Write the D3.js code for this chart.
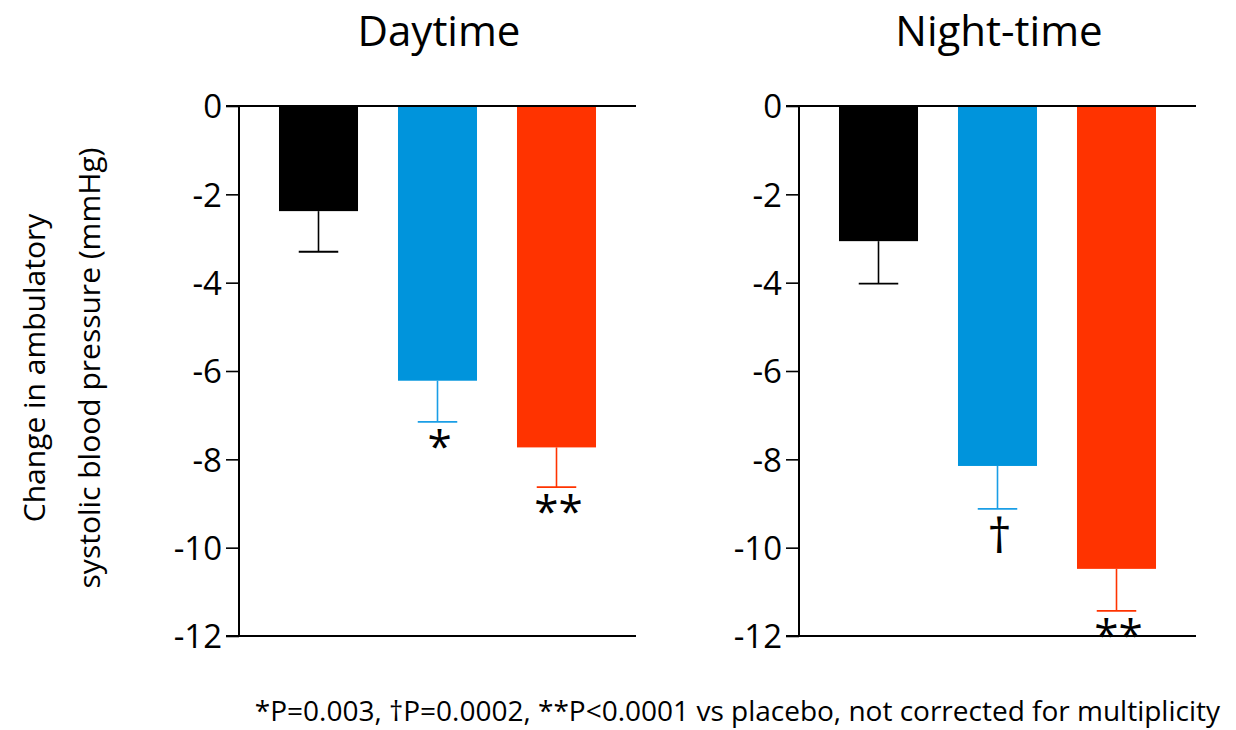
<!DOCTYPE html>
<html>
<head>
<meta charset="utf-8">
<script src="https://cdn.jsdelivr.net/npm/d3@7"></script>
<style>
  body { margin: 0; background: #fff; }
  text { font-family: "Open Sans", sans-serif; fill: #000; }
</style>
</head>
<body>
<script>
// data
var panels = ["Daytime", "Night-time"];
var groups = ["Placebo", "Dose 1", "Dose 2"];
var colors = ["#000000", "#0094dc", "#ff3300"];
var dayMeans = [-2.38, -6.22, -7.73];
var dayErrors = [-3.30, -7.15, -8.63];
var nightMeans = [-3.06, -8.15, -10.48];
var nightErrors = [-4.02, -9.12, -11.43];
var daySig = ["", "*", "**"];
var nightSig = ["", "†", "**"];
var yTicks = [0, -2, -4, -6, -8, -10, -12];

var svg = d3.select("body").append("svg")
    .attr("width", 1236)
    .attr("height", 730);

var y = d3.scaleLinear().domain([0, -12]).range([106, 636]);

var panelData = [
  { title: panels[0], axisX: 239, means: dayMeans, errs: dayErrors, sig: daySig },
  { title: panels[1], axisX: 799, means: nightMeans, errs: nightErrors, sig: nightSig }
];

panelData.forEach(function(p) {
  var x = d3.scaleBand()
    .domain(groups)
    .range([p.axisX + 20, p.axisX + 377])
    .paddingInner(0.336)
    .paddingOuter(0.168);

  var g = svg.append("g");

  // bars
  g.selectAll("rect")
    .data(groups)
    .enter()
    .append("rect")
    .attr("x", function(d) { return x(d); })
    .attr("width", x.bandwidth())
    .attr("y", y(0))
    .attr("height", function(d, i) { return y(p.means[i]) - y(0); })
    .attr("fill", function(d, i) { return colors[i]; });

  // error bars
  var eb = g.selectAll(".err")
    .data(groups)
    .enter()
    .append("g")
    .attr("class", "err");
  eb.append("line")
    .attr("x1", function(d) { return x(d) + x.bandwidth() / 2; })
    .attr("x2", function(d) { return x(d) + x.bandwidth() / 2; })
    .attr("y1", function(d, i) { return y(p.means[i]); })
    .attr("y2", function(d, i) { return y(p.errs[i]); })
    .attr("stroke", function(d, i) { return colors[i] == "#0094dc" ? "#1a9ee6" : colors[i]; })
    .attr("stroke-width", 1.6);
  eb.append("line")
    .attr("x1", function(d) { return x(d) + x.bandwidth() / 4; })
    .attr("x2", function(d) { return x(d) + x.bandwidth() * 3 / 4; })
    .attr("y1", function(d, i) { return y(p.errs[i]); })
    .attr("y2", function(d, i) { return y(p.errs[i]); })
    .attr("stroke", function(d, i) { return colors[i] == "#0094dc" ? "#1a9ee6" : colors[i]; })
    .attr("stroke-width", 1.8);

  // significance marks
  g.selectAll(".sig")
    .data(groups)
    .enter()
    .append("text")
    .attr("class", "sig")
    .attr("x", function(d) { return x(d) + x.bandwidth() / 2 + 2; })
    .attr("y", function(d, i) { return y(p.errs[i]) + (p.sig[i] == "†" ? 44 : 40); })
    .attr("text-anchor", "middle")
    .style("font-size", function(d, i) { return p.sig[i] == "†" ? "48px" : "44px"; })
    .text(function(d, i) { return p.sig[i]; });

  // y axis
  var axis = d3.axisLeft(y)
    .tickValues(yTicks)
    .tickSize(13)
    .tickPadding(4)
    .tickFormat(function(d) { return String(d); });
  var ag = g.append("g")
    .attr("transform", "translate(" + p.axisX + ",0)")
    .call(axis);
  ag.select(".domain").attr("stroke", "#000").attr("stroke-width", 2)
    .attr("d", "M0," + y(0) + "V" + y(-12));
  ag.selectAll(".tick line").attr("stroke", "#000").attr("stroke-width", 1.6);
  ag.selectAll(".tick text")
    .style("font-size", "33px")
    .attr("dy", "0.36em");

  // horizontal lines at 0 and -12
  [0, -12].forEach(function(v) {
    g.append("line")
      .attr("x1", p.axisX - 13)
      .attr("x2", p.axisX + 397)
      .attr("y1", y(v))
      .attr("y2", y(v))
      .attr("stroke", "#000")
      .attr("stroke-width", 2);
  });

  // title
  g.append("text")
    .attr("x", p.axisX + 200)
    .attr("y", 46)
    .attr("text-anchor", "middle")
    .style("font-size", "42px")
    .text(p.title);
});

// y label
var yl = svg.append("text")
  .attr("transform", "translate(0,368) rotate(-90)")
  .attr("text-anchor", "middle")
  .style("font-size", "30px");
yl.append("tspan").attr("x", 0).attr("y", 45).text("Change in ambulatory");
yl.append("tspan").attr("x", 0).attr("y", 100).text("systolic blood pressure (mmHg)");

// footnote
svg.append("text")
  .attr("x", 1220)
  .attr("y", 721)
  .attr("text-anchor", "end")
  .style("font-size", "28px")
  .text("*P=0.003, †P=0.0002, **P<0.0001 vs placebo, not corrected for multiplicity");
</script>
</body>
</html>
